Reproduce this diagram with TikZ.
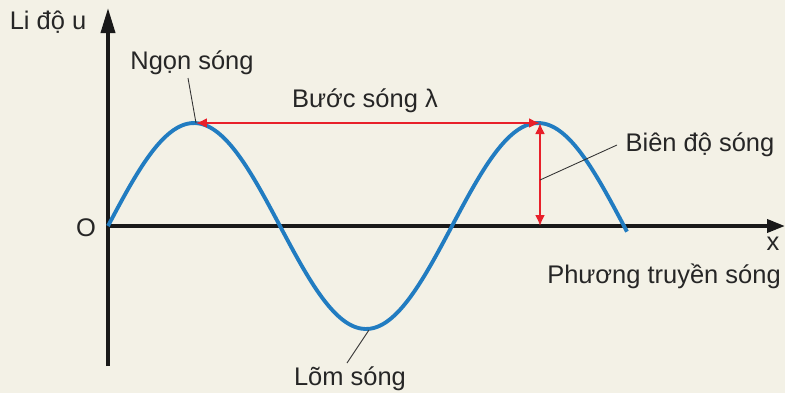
\documentclass[tikz,border=0pt]{standalone}
\usepackage{fontspec}
\setmainfont{Liberation Sans}
\usepackage{tikz}
\usetikzlibrary{arrows.meta}
\definecolor{bgcream}{RGB}{243,241,230}
\definecolor{waveblue}{RGB}{33,124,193}
\definecolor{arrred}{RGB}{232,32,42}

\begin{document}
\begin{tikzpicture}[x=0.02cm,y=-0.02cm,
    lbl/.style={font=\fontsize{14.5}{17}\selectfont,text=black!85,inner sep=0pt},
    axis/.style={line width=2.1pt,black!90},
    leader/.style={line width=0.5pt,black!80},
    redarr/.style={line width=1.1pt,arrred,{Latex[length=2.2mm,width=2mm]}-{Latex[length=2.2mm,width=2mm]}}]
  \fill[bgcream] (0,0) rectangle (785,393);
  \useasboundingbox (0,0) rectangle (785,393);

  % axes
  \coordinate (O) at (108,226);
  \coordinate (ybot) at (108,366);
  \coordinate (ytop) at (108,8);
  \coordinate (xend) at (785,226);
  \draw[axis,-{Triangle[length=5mm,width=2.8mm]}] (ybot) -- (ytop);
  \draw[axis,-{Triangle[length=3.6mm,width=2.6mm]}] (O) -- (xend);

  % wave
  \draw[line width=2.2pt,waveblue] plot[domain=108:627,samples=120,smooth]
    (\x,{226-103*sin((\x-108)/344*360)});
  \coordinate (crestA) at (196,123);
  \coordinate (crestB) at (540,123);
  \coordinate (footB) at (540,226);
  \coordinate (trough) at (369,330);
  \coordinate (ampmid) at (540,180);

  % wavelength and amplitude
  \draw[redarr] (crestA) -- (crestB);
  \draw[redarr] (crestB) -- (footB);

  % labels
  \node[lbl] (liDo) at (48,22) {Li độ u};
  \node[lbl] (origin) at (86,228) {O};
  \node[lbl] (xlab) at (773,244) {x};
  \node[lbl] (phuong) at (664,276) {Phương truyền sóng};
  \node[lbl] (ngon) at (192,63) {Ngọn sóng};
  \node[lbl] (buoc) at (365,101) {Bước sóng λ};
  \node[lbl] (bien) at (700,145) {Biên độ sóng};
  \node[lbl] (lom) at (350,379) {Lõm sóng};

  \coordinate (ngonEnd) at (188,78);
  \coordinate (bienEnd) at (617,145);
  \coordinate (lomEnd) at (347,363);
  \draw[leader] (ngonEnd) -- (crestA);
  \draw[leader] (bienEnd) -- (ampmid);
  \draw[leader] (lomEnd) -- (trough);
\end{tikzpicture}
\end{document}
